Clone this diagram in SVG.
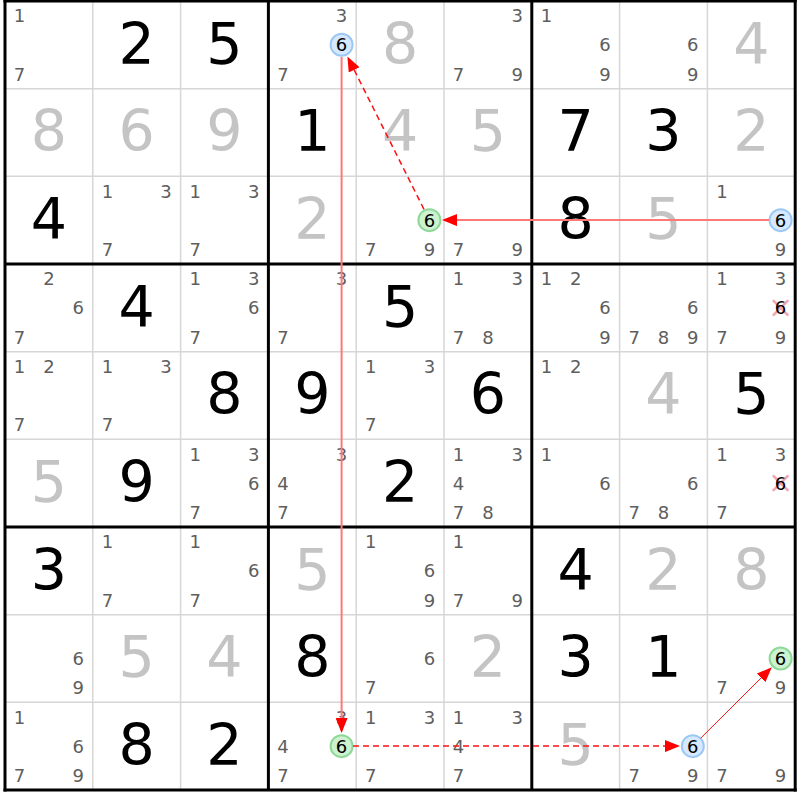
<svg xmlns="http://www.w3.org/2000/svg" width="800" height="800" viewBox="0 0 800 800">
<style>
text{font-family:"DejaVu Sans","Verdana",sans-serif;text-anchor:middle}
.g{font-size:57px;fill:#000}
.s{font-size:57px;fill:#c4c4c4}
.c{font-size:18px;fill:#5e5e5e}
.h{font-size:18px;fill:#000}
.cb{fill:#d6e9ff;stroke:#9cc8f4;stroke-width:2}
.cg{fill:#cdf2cf;stroke:#8ed898;stroke-width:2}
.x{stroke:#f4a4ac;stroke-width:2.5;stroke-linecap:round}
.thin{stroke:#d6d6d6;stroke-width:1.5}
.thick{stroke:#000;stroke-width:3}
.solid{stroke:#ff7878;stroke-width:2;fill:none}
.dash{stroke:#ff1010;stroke-width:1.5;stroke-dasharray:6,4;fill:none}
.fine{stroke:#ff1010;stroke-width:1;fill:none}
</style>
<defs>
<marker id="ah" markerUnits="userSpaceOnUse" markerWidth="15" markerHeight="12" refX="13" refY="6" orient="auto">
<path d="M0,0 L15,6 L0,12 z" fill="#ff0000"/>
</marker>
</defs>
<rect x="0" y="0" width="800" height="800" fill="#fff"/>
<g id="grid-thin">
<line class="thin" x1="92.8" y1="1" x2="92.8" y2="790"/>
<line class="thin" x1="180.6" y1="1" x2="180.6" y2="790"/>
<line class="thin" x1="356.2" y1="1" x2="356.2" y2="790"/>
<line class="thin" x1="444" y1="1" x2="444" y2="790"/>
<line class="thin" x1="619.6" y1="1" x2="619.6" y2="790"/>
<line class="thin" x1="707.4" y1="1" x2="707.4" y2="790"/>
<line class="thin" x1="5" y1="88.67" x2="795.2" y2="88.67"/>
<line class="thin" x1="5" y1="176.33" x2="795.2" y2="176.33"/>
<line class="thin" x1="5" y1="351.67" x2="795.2" y2="351.67"/>
<line class="thin" x1="5" y1="439.33" x2="795.2" y2="439.33"/>
<line class="thin" x1="5" y1="614.67" x2="795.2" y2="614.67"/>
<line class="thin" x1="5" y1="702.33" x2="795.2" y2="702.33"/>
</g>

<!-- Row 1 -->
<g id="r1c1" transform="translate(5,1)"><text class="c" x="14.6" y="21.2">1</text><text class="c" x="14.6" y="79.7">7</text></g>
<g id="r1c2" transform="translate(92.8,1)"><text class="g" x="43.9" y="62.5">2</text></g>
<g id="r1c3" transform="translate(180.6,1)"><text class="g" x="43.9" y="62.5">5</text></g>
<g id="r1c4" transform="translate(268.4,1)"><text class="c" x="73.2" y="21.2">3</text><text class="c" x="14.6" y="79.7">7</text><circle class="cb" cx="73.2" cy="43.8" r="11"/><text class="h" x="73.2" y="50.4">6</text></g>
<g id="r1c5" transform="translate(356.2,1)"><text class="s" x="43.9" y="62.5">8</text></g>
<g id="r1c6" transform="translate(444,1)"><text class="c" x="73.2" y="21.2">3</text><text class="c" x="14.6" y="79.7">7</text><text class="c" x="73.2" y="79.7">9</text></g>
<g id="r1c7" transform="translate(531.8,1)"><text class="c" x="14.6" y="21.2">1</text><text class="c" x="73.2" y="50.4">6</text><text class="c" x="73.2" y="79.7">9</text></g>
<g id="r1c8" transform="translate(619.6,1)"><text class="c" x="73.2" y="50.4">6</text><text class="c" x="73.2" y="79.7">9</text></g>
<g id="r1c9" transform="translate(707.4,1)"><text class="s" x="43.9" y="62.5">4</text></g>

<!-- Row 2 -->
<g id="r2c1" transform="translate(5,88.67)"><text class="s" x="43.9" y="62.5">8</text></g>
<g id="r2c2" transform="translate(92.8,88.67)"><text class="s" x="43.9" y="62.5">6</text></g>
<g id="r2c3" transform="translate(180.6,88.67)"><text class="s" x="43.9" y="62.5">9</text></g>
<g id="r2c4" transform="translate(268.4,88.67)"><text class="g" x="43.9" y="62.5">1</text></g>
<g id="r2c5" transform="translate(356.2,88.67)"><text class="s" x="43.9" y="62.5">4</text></g>
<g id="r2c6" transform="translate(444,88.67)"><text class="s" x="43.9" y="62.5">5</text></g>
<g id="r2c7" transform="translate(531.8,88.67)"><text class="g" x="43.9" y="62.5">7</text></g>
<g id="r2c8" transform="translate(619.6,88.67)"><text class="g" x="43.9" y="62.5">3</text></g>
<g id="r2c9" transform="translate(707.4,88.67)"><text class="s" x="43.9" y="62.5">2</text></g>

<!-- Row 3 -->
<g id="r3c1" transform="translate(5,176.33)"><text class="g" x="43.9" y="62.5">4</text></g>
<g id="r3c2" transform="translate(92.8,176.33)"><text class="c" x="14.6" y="21.2">1</text><text class="c" x="73.2" y="21.2">3</text><text class="c" x="14.6" y="79.7">7</text></g>
<g id="r3c3" transform="translate(180.6,176.33)"><text class="c" x="14.6" y="21.2">1</text><text class="c" x="73.2" y="21.2">3</text><text class="c" x="14.6" y="79.7">7</text></g>
<g id="r3c4" transform="translate(268.4,176.33)"><text class="s" x="43.9" y="62.5">2</text></g>
<g id="r3c5" transform="translate(356.2,176.33)"><circle class="cg" cx="73.2" cy="43.8" r="11"/><text class="h" x="73.2" y="50.4">6</text><text class="c" x="14.6" y="79.7">7</text><text class="c" x="73.2" y="79.7">9</text></g>
<g id="r3c6" transform="translate(444,176.33)"><text class="c" x="14.6" y="79.7">7</text><text class="c" x="73.2" y="79.7">9</text></g>
<g id="r3c7" transform="translate(531.8,176.33)"><text class="g" x="43.9" y="62.5">8</text></g>
<g id="r3c8" transform="translate(619.6,176.33)"><text class="s" x="43.9" y="62.5">5</text></g>
<g id="r3c9" transform="translate(707.4,176.33)"><text class="c" x="14.6" y="21.2">1</text><circle class="cb" cx="73.2" cy="43.8" r="11"/><text class="h" x="73.2" y="50.4">6</text><text class="c" x="73.2" y="79.7">9</text></g>

<!-- Row 4 -->
<g id="r4c1" transform="translate(5,264)"><text class="c" x="43.9" y="21.2">2</text><text class="c" x="73.2" y="50.4">6</text><text class="c" x="14.6" y="79.7">7</text></g>
<g id="r4c2" transform="translate(92.8,264)"><text class="g" x="43.9" y="62.5">4</text></g>
<g id="r4c3" transform="translate(180.6,264)"><text class="c" x="14.6" y="21.2">1</text><text class="c" x="73.2" y="21.2">3</text><text class="c" x="73.2" y="50.4">6</text><text class="c" x="14.6" y="79.7">7</text></g>
<g id="r4c4" transform="translate(268.4,264)"><text class="c" x="73.2" y="21.2">3</text><text class="c" x="14.6" y="79.7">7</text></g>
<g id="r4c5" transform="translate(356.2,264)"><text class="g" x="43.9" y="62.5">5</text></g>
<g id="r4c6" transform="translate(444,264)"><text class="c" x="14.6" y="21.2">1</text><text class="c" x="73.2" y="21.2">3</text><text class="c" x="14.6" y="79.7">7</text><text class="c" x="43.9" y="79.7">8</text></g>
<g id="r4c7" transform="translate(531.8,264)"><text class="c" x="14.6" y="21.2">1</text><text class="c" x="43.9" y="21.2">2</text><text class="c" x="73.2" y="50.4">6</text><text class="c" x="73.2" y="79.7">9</text></g>
<g id="r4c8" transform="translate(619.6,264)"><text class="c" x="73.2" y="50.4">6</text><text class="c" x="14.6" y="79.7">7</text><text class="c" x="43.9" y="79.7">8</text><text class="c" x="73.2" y="79.7">9</text></g>
<g id="r4c9" transform="translate(707.4,264)"><text class="c" x="14.6" y="21.2">1</text><text class="c" x="73.2" y="21.2">3</text><line class="x" x1="66.2" y1="36.8" x2="80.2" y2="50.8"/><line class="x" x1="80.2" y1="36.8" x2="66.2" y2="50.8"/><text class="h" x="73.2" y="50.4">6</text><text class="c" x="14.6" y="79.7">7</text><text class="c" x="73.2" y="79.7">9</text></g>

<!-- Row 5 -->
<g id="r5c1" transform="translate(5,351.67)"><text class="c" x="14.6" y="21.2">1</text><text class="c" x="43.9" y="21.2">2</text><text class="c" x="14.6" y="79.7">7</text></g>
<g id="r5c2" transform="translate(92.8,351.67)"><text class="c" x="14.6" y="21.2">1</text><text class="c" x="73.2" y="21.2">3</text><text class="c" x="14.6" y="79.7">7</text></g>
<g id="r5c3" transform="translate(180.6,351.67)"><text class="g" x="43.9" y="62.5">8</text></g>
<g id="r5c4" transform="translate(268.4,351.67)"><text class="g" x="43.9" y="62.5">9</text></g>
<g id="r5c5" transform="translate(356.2,351.67)"><text class="c" x="14.6" y="21.2">1</text><text class="c" x="73.2" y="21.2">3</text><text class="c" x="14.6" y="79.7">7</text></g>
<g id="r5c6" transform="translate(444,351.67)"><text class="g" x="43.9" y="62.5">6</text></g>
<g id="r5c7" transform="translate(531.8,351.67)"><text class="c" x="14.6" y="21.2">1</text><text class="c" x="43.9" y="21.2">2</text></g>
<g id="r5c8" transform="translate(619.6,351.67)"><text class="s" x="43.9" y="62.5">4</text></g>
<g id="r5c9" transform="translate(707.4,351.67)"><text class="g" x="43.9" y="62.5">5</text></g>

<!-- Row 6 -->
<g id="r6c1" transform="translate(5,439.33)"><text class="s" x="43.9" y="62.5">5</text></g>
<g id="r6c2" transform="translate(92.8,439.33)"><text class="g" x="43.9" y="62.5">9</text></g>
<g id="r6c3" transform="translate(180.6,439.33)"><text class="c" x="14.6" y="21.2">1</text><text class="c" x="73.2" y="21.2">3</text><text class="c" x="73.2" y="50.4">6</text><text class="c" x="14.6" y="79.7">7</text></g>
<g id="r6c4" transform="translate(268.4,439.33)"><text class="c" x="73.2" y="21.2">3</text><text class="c" x="14.6" y="50.4">4</text><text class="c" x="14.6" y="79.7">7</text></g>
<g id="r6c5" transform="translate(356.2,439.33)"><text class="g" x="43.9" y="62.5">2</text></g>
<g id="r6c6" transform="translate(444,439.33)"><text class="c" x="14.6" y="21.2">1</text><text class="c" x="73.2" y="21.2">3</text><text class="c" x="14.6" y="50.4">4</text><text class="c" x="14.6" y="79.7">7</text><text class="c" x="43.9" y="79.7">8</text></g>
<g id="r6c7" transform="translate(531.8,439.33)"><text class="c" x="14.6" y="21.2">1</text><text class="c" x="73.2" y="50.4">6</text></g>
<g id="r6c8" transform="translate(619.6,439.33)"><text class="c" x="73.2" y="50.4">6</text><text class="c" x="14.6" y="79.7">7</text><text class="c" x="43.9" y="79.7">8</text></g>
<g id="r6c9" transform="translate(707.4,439.33)"><text class="c" x="14.6" y="21.2">1</text><text class="c" x="73.2" y="21.2">3</text><line class="x" x1="66.2" y1="36.8" x2="80.2" y2="50.8"/><line class="x" x1="80.2" y1="36.8" x2="66.2" y2="50.8"/><text class="h" x="73.2" y="50.4">6</text><text class="c" x="14.6" y="79.7">7</text></g>

<!-- Row 7 -->
<g id="r7c1" transform="translate(5,527)"><text class="g" x="43.9" y="62.5">3</text></g>
<g id="r7c2" transform="translate(92.8,527)"><text class="c" x="14.6" y="21.2">1</text><text class="c" x="14.6" y="79.7">7</text></g>
<g id="r7c3" transform="translate(180.6,527)"><text class="c" x="14.6" y="21.2">1</text><text class="c" x="73.2" y="50.4">6</text><text class="c" x="14.6" y="79.7">7</text></g>
<g id="r7c4" transform="translate(268.4,527)"><text class="s" x="43.9" y="62.5">5</text></g>
<g id="r7c5" transform="translate(356.2,527)"><text class="c" x="14.6" y="21.2">1</text><text class="c" x="73.2" y="50.4">6</text><text class="c" x="73.2" y="79.7">9</text></g>
<g id="r7c6" transform="translate(444,527)"><text class="c" x="14.6" y="21.2">1</text><text class="c" x="14.6" y="79.7">7</text><text class="c" x="73.2" y="79.7">9</text></g>
<g id="r7c7" transform="translate(531.8,527)"><text class="g" x="43.9" y="62.5">4</text></g>
<g id="r7c8" transform="translate(619.6,527)"><text class="s" x="43.9" y="62.5">2</text></g>
<g id="r7c9" transform="translate(707.4,527)"><text class="s" x="43.9" y="62.5">8</text></g>

<!-- Row 8 -->
<g id="r8c1" transform="translate(5,614.67)"><text class="c" x="73.2" y="50.4">6</text><text class="c" x="73.2" y="79.7">9</text></g>
<g id="r8c2" transform="translate(92.8,614.67)"><text class="s" x="43.9" y="62.5">5</text></g>
<g id="r8c3" transform="translate(180.6,614.67)"><text class="s" x="43.9" y="62.5">4</text></g>
<g id="r8c4" transform="translate(268.4,614.67)"><text class="g" x="43.9" y="62.5">8</text></g>
<g id="r8c5" transform="translate(356.2,614.67)"><text class="c" x="73.2" y="50.4">6</text><text class="c" x="14.6" y="79.7">7</text></g>
<g id="r8c6" transform="translate(444,614.67)"><text class="s" x="43.9" y="62.5">2</text></g>
<g id="r8c7" transform="translate(531.8,614.67)"><text class="g" x="43.9" y="62.5">3</text></g>
<g id="r8c8" transform="translate(619.6,614.67)"><text class="g" x="43.9" y="62.5">1</text></g>
<g id="r8c9" transform="translate(707.4,614.67)"><circle class="cg" cx="73.2" cy="43.8" r="11"/><text class="h" x="73.2" y="50.4">6</text><text class="c" x="14.6" y="79.7">7</text><text class="c" x="73.2" y="79.7">9</text></g>

<!-- Row 9 -->
<g id="r9c1" transform="translate(5,702.33)"><text class="c" x="14.6" y="21.2">1</text><text class="c" x="73.2" y="50.4">6</text><text class="c" x="14.6" y="79.7">7</text><text class="c" x="73.2" y="79.7">9</text></g>
<g id="r9c2" transform="translate(92.8,702.33)"><text class="g" x="43.9" y="62.5">8</text></g>
<g id="r9c3" transform="translate(180.6,702.33)"><text class="g" x="43.9" y="62.5">2</text></g>
<g id="r9c4" transform="translate(268.4,702.33)"><text class="c" x="73.2" y="21.2">3</text><text class="c" x="14.6" y="50.4">4</text><circle class="cg" cx="73.2" cy="43.8" r="11"/><text class="h" x="73.2" y="50.4">6</text><text class="c" x="14.6" y="79.7">7</text></g>
<g id="r9c5" transform="translate(356.2,702.33)"><text class="c" x="14.6" y="21.2">1</text><text class="c" x="73.2" y="21.2">3</text><text class="c" x="14.6" y="79.7">7</text></g>
<g id="r9c6" transform="translate(444,702.33)"><text class="c" x="14.6" y="21.2">1</text><text class="c" x="73.2" y="21.2">3</text><text class="c" x="14.6" y="50.4">4</text><text class="c" x="14.6" y="79.7">7</text></g>
<g id="r9c7" transform="translate(531.8,702.33)"><text class="s" x="43.9" y="62.5">5</text></g>
<g id="r9c8" transform="translate(619.6,702.33)"><circle class="cb" cx="73.2" cy="43.8" r="11"/><text class="h" x="73.2" y="50.4">6</text><text class="c" x="14.6" y="79.7">7</text><text class="c" x="73.2" y="79.7">9</text></g>
<g id="r9c9" transform="translate(707.4,702.33)"><text class="c" x="14.6" y="79.7">7</text><text class="c" x="73.2" y="79.7">9</text></g>

<g id="grid-thick">
<line class="thick" x1="5" y1="-0.5" x2="5" y2="791.5"/>
<line class="thick" x1="268.4" y1="1" x2="268.4" y2="790"/>
<line class="thick" x1="531.8" y1="1" x2="531.8" y2="790"/>
<line class="thick" x1="795.2" y1="-0.5" x2="795.2" y2="791.5"/>
<line class="thick" x1="3.5" y1="1" x2="796.7" y2="1"/>
<line class="thick" x1="5" y1="264" x2="795.2" y2="264"/>
<line class="thick" x1="5" y1="527" x2="795.2" y2="527"/>
<line class="thick" x1="3.5" y1="790" x2="796.7" y2="790"/>
</g>

<g id="connectors">
<line class="solid" x1="769" y1="220.1" x2="444" y2="220.1" marker-end="url(#ah)"/>
<line class="dash" x1="424" y1="209.4" x2="348.3" y2="58.2" marker-end="url(#ah)"/>
<line class="solid" x1="341.6" y1="57" x2="341.6" y2="731" marker-end="url(#ah)"/>
<line class="dash" x1="353" y1="746.1" x2="678" y2="746.1" marker-end="url(#ah)"/>
<line class="fine" x1="700.6" y1="738.3" x2="770.4" y2="668.7" marker-end="url(#ah)"/>
</g>
</svg>
